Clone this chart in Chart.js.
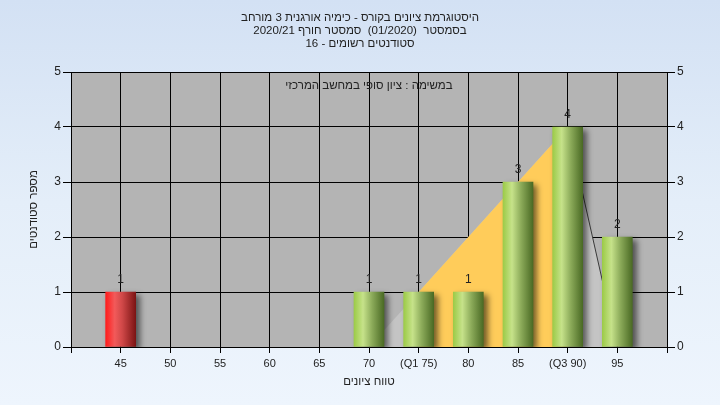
<!DOCTYPE html>
<html lang="he">
<head>
  <meta charset="UTF-8">
  <title>היסטוגרמת ציונים</title>
  <style>
    html, body {
      margin: 0;
      padding: 0;
    }
    body {
      width: 720px;
      height: 405px;
      background: linear-gradient(to bottom, #d3e1f4 0%, #e4eef9 50%, #eef5fd 100%);
      overflow: hidden;
    }
    #wrap {
      width: 720px;
      height: 405px;
    }
  </style>
</head>
<body>
  <div id="wrap">
    <canvas id="histChart" width="720" height="405"></canvas>
  </div>

  <script src="https://cdn.jsdelivr.net/npm/chart.js"></script>
  <script>
    // chart data
    const titleLines = [
      'היסטוגרמת ציונים בקורס - כימיה אורגנית 3 מורחב',
      'בסמסטר  (01/2020)  סמסטר חורף 2020/21',
      'סטודנטים רשומים - 16'
    ];
    const taskLabel = 'במשימה : ציון סופי במחשב המרכזי';
    const xTitle = 'טווח ציונים';
    const yTitle = 'מספר סטודנטים';

    const grades = [45, 50, 55, 60, 65, 70, 75, 80, 85, 90, 95];
    const gradeLabels = ['45', '50', '55', '60', '65', '70', '(Q1 75)', '80', '85', '(Q3 90)', '95'];
    const counts = [1, 0, 0, 0, 0, 1, 1, 1, 3, 4, 2];
    const failGrades = [45];

    // light grey range shape and yellow quartile band
    const rangeX = [70, 90, 95];
    const rangeY = [0, 4, 0];
    const quartX = [75, 75, 90, 90];
    const quartY = [0, 1, 4, 0];
    const edgeX = [90, 95];
    const edgeY = [4, 0];

    const font = 'Liberation Sans, Arial, sans-serif';

    function pts(xs, ys) {
      return xs.map((x, i) => ({ x: x, y: ys[i] }));
    }

    // only the grades that have students get a bar
    const barPoints = pts(grades, counts).filter(p => p.y > 0);

    function barFill(ctx) {
      const chart = ctx.chart;
      const xs = chart.scales.x;
      const fail = ctx.raw && failGrades.includes(ctx.raw.x);
      if (!xs || !ctx.raw) return fail ? '#d03030' : '#9ccc4a';
      const px = xs.getPixelForValue(ctx.raw.x);
      if (!isFinite(px)) return fail ? '#d03030' : '#9ccc4a';
      const g = chart.ctx.createLinearGradient(px - 15, 0, px + 15, 0);
      if (fail) {
        g.addColorStop(0, '#ff1c1c');
        g.addColorStop(0.3, '#f25a5a');
        g.addColorStop(0.55, '#d04848');
        g.addColorStop(1, '#7c1414');
      } else {
        g.addColorStop(0, '#9ccb48');
        g.addColorStop(0.3, '#c6e28a');
        g.addColorStop(0.6, '#8cab5a');
        g.addColorStop(1, '#4a6a24');
      }
      return g;
    }

    const plotBg = {
      id: 'plotBg',
      beforeDraw(chart) {
        const { ctx, chartArea: a } = chart;
        ctx.save();
        ctx.fillStyle = '#b4b4b4';
        ctx.fillRect(a.left, a.top, a.right - a.left, a.bottom - a.top);
        ctx.restore();
      }
    };

    const barShadow = {
      id: 'barShadow',
      beforeDatasetDraw(chart, args) {
        if (args.meta.type !== 'bar') return;
        const ctx = chart.ctx;
        ctx.save();
        ctx.shadowColor = 'rgba(0,0,0,0.55)';
        ctx.shadowBlur = 6;
        ctx.shadowOffsetX = 4;
        ctx.shadowOffsetY = 3;
      },
      afterDatasetDraw(chart, args) {
        if (args.meta.type !== 'bar') return;
        chart.ctx.restore();
      }
    };

    const texts = {
      id: 'texts',
      afterDatasetsDraw(chart) {
        const { ctx, chartArea: a } = chart;
        ctx.save();
        ctx.font = '12px ' + font;
        ctx.fillStyle = '#222';
        ctx.textAlign = 'center';
        ctx.textBaseline = 'middle';
        // value labels above the bars
        const meta = chart.getDatasetMeta(0);
        meta.data.forEach((bar, i) => {
          ctx.fillText(String(barPoints[i].y), bar.x, bar.y - 12);
        });
        // header and task label
        ctx.font = '11.5px ' + font;
        ctx.direction = 'rtl';
        titleLines.forEach((t, i) => ctx.fillText(t, 360, 18 + i * 13));
        ctx.fillText(taskLabel, (a.left + a.right) / 2, 86);
        ctx.restore();
      }
    };

    new Chart(document.getElementById('histChart'), {
      type: 'bar',
      data: {
        datasets: [
          {
            type: 'bar',
            data: barPoints,
            backgroundColor: barFill,
            borderWidth: 0,
            barThickness: 30,
            order: 0
          },
          {
            type: 'line',
            data: pts(edgeX, edgeY),
            borderColor: '#3a3a3a',
            borderWidth: 1,
            pointRadius: 0,
            fill: false,
            order: 1
          },
          {
            type: 'line',
            data: pts(quartX, quartY),
            borderWidth: 0,
            pointRadius: 0,
            backgroundColor: '#ffcc5a',
            fill: 'origin',
            order: 2
          },
          {
            type: 'line',
            data: pts(rangeX, rangeY),
            borderWidth: 0,
            pointRadius: 0,
            backgroundColor: '#c4c4c4',
            fill: 'origin',
            order: 3
          }
        ]
      },
      options: {
        responsive: false,
        animation: false,
        layout: { padding: { top: 72, left: 0, right: 0, bottom: 0 } },
        plugins: {
          legend: { display: false },
          tooltip: { enabled: false }
        },
        scales: {
          x: {
            type: 'linear',
            min: 40,
            max: 100,
            offset: false,
            afterFit(s) { s.height = 58; },
            afterBuildTicks(s) {
              s.ticks = [40].concat(grades, [100]).map(v => ({ value: v }));
            },
            ticks: {
              autoSkip: false,
              maxRotation: 0,
              padding: 4,
              color: '#222',
              font: { family: font, size: 11 },
              callback(v) {
                const i = grades.indexOf(v);
                return i < 0 ? '' : gradeLabels[i];
              }
            },
            grid: { offset: false, color: '#000', lineWidth: 1, tickLength: 6 },
            border: { color: '#000', width: 1 },
            title: {
              display: true,
              text: xTitle,
              color: '#222',
              font: { family: font, size: 11.5 },
              padding: { top: 4, bottom: 16 }
            }
          },
          y: {
            position: 'left',
            min: 0,
            max: 5,
            afterFit(s) { s.width = 71; },
            ticks: {
              stepSize: 1,
              padding: 2,
              color: '#222',
              font: { family: font, size: 12 }
            },
            grid: { color: '#000', lineWidth: 1, tickLength: 8 },
            border: { color: '#000', width: 1 },
            title: {
              display: true,
              text: yTitle,
              color: '#222',
              font: { family: font, size: 11.5 },
              padding: { top: 27, bottom: 0 }
            }
          },
          y2: {
            position: 'right',
            min: 0,
            max: 5,
            afterFit(s) { s.width = 53; },
            ticks: {
              stepSize: 1,
              padding: 2,
              color: '#222',
              font: { family: font, size: 12 }
            },
            grid: { drawOnChartArea: false, color: '#000', tickLength: 8 },
            border: { color: '#000', width: 1 }
          }
        }
      },
      plugins: [plotBg, barShadow, texts]
    });
  </script>
</body>
</html>
